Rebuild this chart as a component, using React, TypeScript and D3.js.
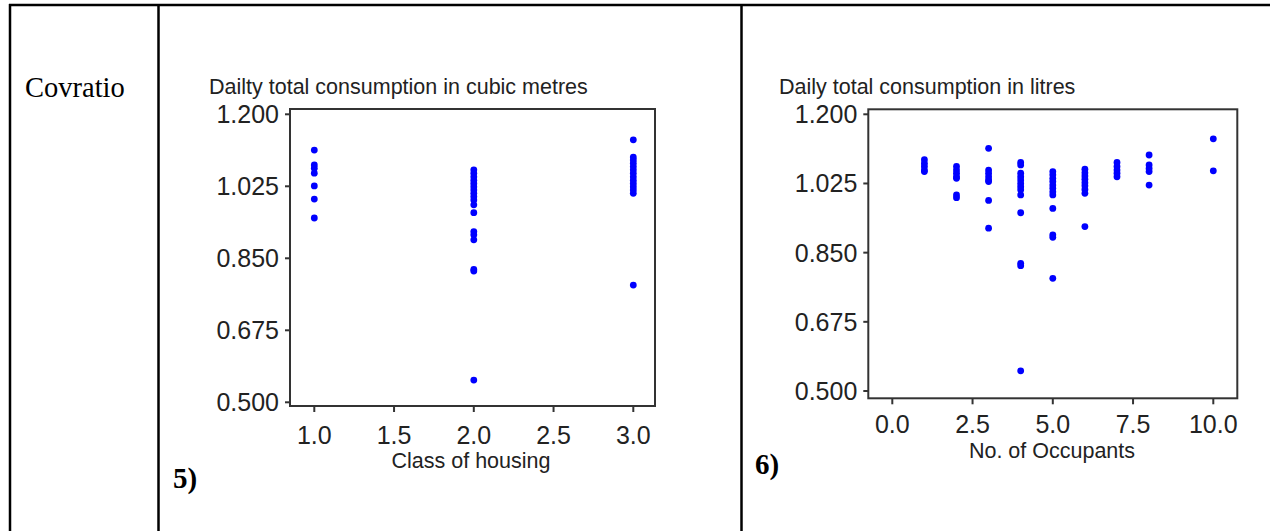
import React from "react";
import * as d3 from "d3";

// Covratio vs. class of housing (left panel)
const housingClass1 = [1.113, 1.077, 1.069, 1.057, 1.026, 0.994, 0.948];
const housingClass2 = [
  1.065, 1.057, 1.048, 1.040, 1.032, 1.024, 1.016, 1.008, 1.0, 0.992, 0.98,
  0.961, 0.915, 0.907, 0.895, 0.823, 0.819, 0.554,
];
const housingClass3 = [
  1.138, 1.096, 1.089, 1.081, 1.073, 1.065, 1.057, 1.048, 1.04, 1.032, 1.024,
  1.016, 1.008, 0.785,
];
const housingClasses = [1, 2, 3];
const housingValues = [housingClass1, housingClass2, housingClass3];

// Covratio vs. number of occupants (right panel)
const occupantCounts = [1, 2, 3, 4, 5, 6, 7, 8, 10];
const occupantValues = [
  [1.085, 1.076, 1.068, 1.059, 1.055],
  [1.068, 1.059, 1.051, 1.042, 1.038, 0.996, 0.989],
  [1.114, 1.059, 1.051, 1.042, 1.034, 1.03, 0.982, 0.912],
  [1.078, 1.072, 1.051, 1.042, 1.034, 1.025, 1.017, 1.009, 0.996, 0.951, 0.823, 0.817, 0.551],
  [1.055, 1.047, 1.038, 1.03, 1.021, 1.013, 1.004, 0.996, 0.962, 0.895, 0.889, 0.785],
  [1.061, 1.052, 1.044, 1.036, 1.027, 1.019, 1.01, 1.0, 0.916],
  [1.078, 1.068, 1.059, 1.051, 1.042],
  [1.097, 1.072, 1.063, 1.055, 1.021],
  [1.138, 1.057],
];

const yTicks = [0.5, 0.675, 0.85, 1.025, 1.2];
const xTicksLeft = [1.0, 1.5, 2.0, 2.5, 3.0];
const xTicksRight = [0.0, 2.5, 5.0, 7.5, 10.0];

const SANS = "'Liberation Sans', Arial, sans-serif";
const SERIF = "'Liberation Serif', 'Times New Roman', serif";
const INK = "#222";
const FRAME = "#333";
const DOT = "#0000ff";

type PanelProps = {
  title: string;
  xLabel: string;
  xTicks: number[];
  xDomain: [number, number];
  xRange: [number, number];
  yRange: [number, number];
  frame: { x0: number; x1: number; y0: number; y1: number };
  xTickBaseline: number;
  xLabelX: number;
  xLabelBaseline: number;
  titleX: number;
  points: { x: number; y: number }[];
};

function Panel(p: PanelProps) {
  const x = d3.scaleLinear().domain(p.xDomain).range(p.xRange);
  const y = d3.scaleLinear().domain([0.5, 1.2]).range(p.yRange);
  const { x0, x1, y0, y1 } = p.frame;
  const fmtY = d3.format(".3f");
  const fmtX = d3.format(".1f");
  return (
    <g>
      <text x={p.titleX} y={94} fontFamily={SANS} fontSize={21.5} fill={INK}>
        {p.title}
      </text>
      <rect x={x0} y={y0} width={x1 - x0} height={y1 - y0} fill="none" stroke={FRAME} strokeWidth={2} />
      {yTicks.map((t) => (
        <g key={"y" + t}>
          <line x1={x0 - 5} x2={x0} y1={y(t)} y2={y(t)} stroke={FRAME} strokeWidth={2} />
          <text
            x={x0 - 11}
            y={y(t)}
            dy="0.36em"
            textAnchor="end"
            fontFamily={SANS}
            fontSize={25}
            fill={INK}
          >
            {fmtY(t)}
          </text>
        </g>
      ))}
      {p.xTicks.map((t) => (
        <g key={"x" + t}>
          <line x1={x(t)} x2={x(t)} y1={y1} y2={y1 + 6} stroke={FRAME} strokeWidth={2} />
          <text
            x={x(t)}
            y={p.xTickBaseline}
            textAnchor="middle"
            fontFamily={SANS}
            fontSize={25}
            fill={INK}
          >
            {fmtX(t)}
          </text>
        </g>
      ))}
      <text
        x={p.xLabelX}
        y={p.xLabelBaseline}
        textAnchor="middle"
        fontFamily={SANS}
        fontSize={21.5}
        fill={INK}
      >
        {p.xLabel}
      </text>
      {p.points.map((d, i) => (
        <circle key={i} cx={x(d.x)} cy={y(d.y)} r={3.4} fill={DOT} />
      ))}
    </g>
  );
}

export default function App() {
  const leftPoints = housingClasses.flatMap((c, i) =>
    housingValues[i].map((v) => ({ x: c, y: v }))
  );
  const rightPoints = occupantCounts.flatMap((c, i) =>
    occupantValues[i].map((v) => ({ x: c, y: v }))
  );
  return (
    <svg
      width={1270}
      height={531}
      style={{ position: "absolute", left: 0, top: 0, display: "block", background: "#fff" }}
    >
      {/* table rules */}
      <line x1={9} x2={1270} y1={5} y2={5} stroke="#000" strokeWidth={2.5} />
      <line x1={10} x2={10} y1={4} y2={531} stroke="#000" strokeWidth={2.5} />
      <line x1={158.5} x2={158.5} y1={4} y2={531} stroke="#000" strokeWidth={2.5} />
      <line x1={741.5} x2={741.5} y1={4} y2={531} stroke="#000" strokeWidth={2.5} />

      <text x={25} y={97} fontFamily={SERIF} fontSize={28.5} fill="#000">
        Covratio
      </text>
      <text x={173} y={488} fontFamily={SERIF} fontWeight="bold" fontSize={29} fill="#000">
        5)
      </text>
      <text x={755} y={474} fontFamily={SERIF} fontWeight="bold" fontSize={29} fill="#000">
        6)
      </text>

      <Panel
        title="Dailty total consumption in cubic metres"
        xLabel="Class of housing"
        xTicks={xTicksLeft}
        xDomain={[1, 3]}
        xRange={[314.3, 633.3]}
        yRange={[402.3, 114.3]}
        frame={{ x0: 290, x1: 655, y0: 109, y1: 406 }}
        xTickBaseline={444}
        xLabelX={471}
        xLabelBaseline={468}
        titleX={209}
        points={leftPoints}
      />
      <Panel
        title="Daily total consumption in litres"
        xLabel="No. of Occupants"
        xTicks={xTicksRight}
        xDomain={[0, 10]}
        xRange={[892.3, 1213.3]}
        yRange={[391, 114.3]}
        frame={{ x0: 868.3, x1: 1237.3, y0: 109.3, y1: 398.3 }}
        xTickBaseline={433}
        xLabelX={1052}
        xLabelBaseline={458}
        titleX={779}
        points={rightPoints}
      />
    </svg>
  );
}
